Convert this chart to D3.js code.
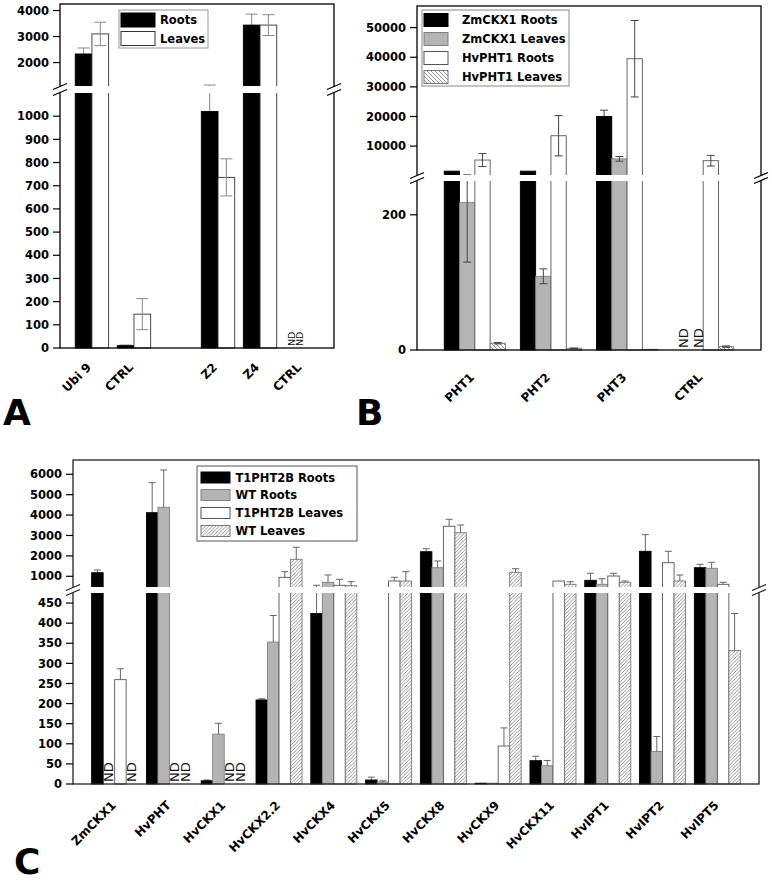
<!DOCTYPE html>
<html><head><meta charset="utf-8">
<script src="https://cdn.jsdelivr.net/npm/d3@7"></script>
<style>body{margin:0;background:#fff} text{font-family:"DejaVu Sans",sans-serif}</style>
</head><body><svg id="c" width="772" height="883"></svg>
<script>
// ---------- Panel A data ----------
const aCategories = ["Ubi 9", "CTRL", "", "Z2", "Z4", "CTRL"];
const aSeriesNames = ["Roots", "Leaves"];
const aRoots     = [2330, 10, null, 1020, 3440, "ND"];
const aRootsErr  = [230, 3, null, 118, 420, null];
const aLeaves    = [3100, 146, null, 736, 3440, "ND"];
const aLeavesErr = [450, 67, null, 80, 400, null];
const aTicksLow  = [0, 100, 200, 300, 400, 500, 600, 700, 800, 900, 1000];
const aTicksHigh = [2000, 3000, 4000];

// ---------- Panel B data ----------
const bCategories = ["PHT1", "PHT2", "PHT3", "CTRL"];
const bSeriesNames = ["ZmCKX1 Roots", "ZmCKX1 Leaves", "HvPHT1 Roots", "HvPHT1 Leaves"];
const bZmRoots      = [1550, 1550, 20030, "ND"];
const bZmRootsErr   = [0, 0, 2100, null];
const bZmLeaves     = [218, 109, 5700, "ND"];
const bZmLeavesErr  = [88, 11, 800, null];
const bHvRoots      = [5300, 13500, 39500, 5080];
const bHvRootsErr   = [2200, 6800, 12900, 1800];
const bHvLeaves     = [10, 2.5, 1, 5];
const bHvLeavesErr  = [1, 0.5, 0, 1];
const bTicksLow  = [0, 200];
const bTicksHigh = [10000, 20000, 30000, 40000, 50000];

// ---------- Panel C data ----------
const cCategories = ["ZmCKX1", "HvPHT", "HvCKX1", "HvCKX2.2", "HvCKX4", "HvCKX5", "HvCKX8", "HvCKX9", "HvCKX11", "HvIPT1", "HvIPT2", "HvIPT5"];
const cSeriesNames = ["T1PHT2B Roots", "WT Roots", "T1PHT2B Leaves", "WT Leaves"];
const cT1Roots     = [1176, 4117, 8, 209, 424, 10, 2205, 2, 58, 803, 2225, 1421];
const cT1RootsErr  = [132, 1471, 2, 3, 134, 7, 147, 0, 11, 344, 814, 167];
const cWtRoots     = ["ND", 4382, 124, 353, 705, 5, 1421, 2, 45.5, 607, 81, 1392];
const cWtRootsErr  = [null, 1828, 27, 66, 358, 3, 329, 0, 13, 275, 37, 294];
const cT1Leaves    = [259.5, "ND", "ND", 950, 558, 769, 3450, 94.5, 769, 1014, 1666, 607];
const cT1LeavesErr = [27, null, null, 275, 294, 181, 344, 45, 0, 133, 559, 98];
const cWtLeaves    = ["ND", "ND", "ND", 1833, 539, 769, 3137, 1196, 607, 705, 769, 332];
const cWtLeavesErr = [null, null, null, 588, 196, 456, 377, 176, 128, 64, 294, 92];
const cTicksLow  = [0, 50, 100, 150, 200, 250, 300, 350, 400, 450];
const cTicksHigh = [1000, 2000, 3000, 4000, 5000, 6000];

// ---------- drawing ----------
const svg = d3.select("#c");
const defs = svg.append("defs");
function hatch(id, forward, step) {
  const p = defs.append("pattern").attr("id", id).attr("patternUnits", "userSpaceOnUse")
    .attr("width", step).attr("height", step);
  p.append("rect").attr("width", step).attr("height", step).attr("fill", "#fff");
  const s = step;
  p.append("path")
    .attr("d", forward
      ? `M-1,1 l2,-2 M0,${s} l${s},-${s} M${s-1},${s+1} l2,-2`
      : `M-1,${s-1} l2,2 M0,0 l${s},${s} M${s-1},-1 l2,2`)
    .attr("stroke", "#777").attr("stroke-width", 0.8);
}
hatch("hatchB", false, 4);
hatch("hatchC", true, 3.5);

const FS = {black: {fill: "#000", stroke: "#000"}, gray: {fill: "#b4b4b4", stroke: "#808080"},
  white: {fill: "#fff", stroke: "#444"}};

function drawPanel(c) {
  const g = svg.append("g");
  const low = d3.scaleLinear().domain([0, c.lowMax]).range([c.yBot, c.lowTop]);
  const high = d3.scaleLinear().domain([c.lowMax, c.highMax]).range([c.highBot, c.yTop]);
  const y = v => v <= c.lowMax ? low(v) : high(v);
  const x = d3.scalePoint().domain(d3.range(c.cats.length)).range([c.x0, c.x1]).padding(0.76);
  const n = c.series.length;
  const xs = d3.scaleBand().domain(d3.range(n)).range([-c.barW * n / 2, c.barW * n / 2]);
  const bw = xs.bandwidth();

  const errUnder = g.append("g"), barsG = g.append("g"), errOver = g.append("g"), ndG = g.append("g");
  c.series.forEach((s, si) => {
    s.vals.forEach((v, i) => {
      if (v === null) return;
      const bx = x(i) + xs(si);
      if (v === "ND") {
        const tx = c.ndX(x(i), si, bx + bw / 2);
        ndG.append("text").attr("transform", `translate(${tx},${c.yBot - 2}) rotate(-90)`)
          .attr("dy", "0.36em").attr("font-size", c.ndSize).attr("fill", "#111").text("ND");
        return;
      }
      barsG.append("rect").attr("x", bx).attr("y", y(v)).attr("width", bw)
        .attr("height", c.yBot - y(v)).attr("fill", s.fill).attr("stroke", s.stroke).attr("stroke-width", 0.9);
      const e = s.errs[i];
      if (e) {
        const eg = s.fill === "#000" ? errUnder : errOver;
        const cx = bx + bw / 2;
        const yt = y(v + e), yb = c.errMode === "both" ? y(Math.max(0, v - e)) : y(v);
        const st = {stroke: c.errColor, "stroke-width": 1};
        const L = (x1, y1, x2, y2) => { const l = eg.append("line").attr("x1", x1).attr("y1", y1).attr("x2", x2).attr("y2", y2);
          Object.entries(st).forEach(([k, val]) => l.attr(k, val)); };
        L(cx, yt, cx, yb);
        L(cx - c.capW / 2, yt, cx + c.capW / 2, yt);
        if (c.errMode === "both") L(cx - c.capW / 2, yb, cx + c.capW / 2, yb);
      }
    });
  });

  // frame
  g.append("rect").attr("x", c.x0).attr("y", c.yTop).attr("width", c.x1 - c.x0).attr("height", c.yBot - c.yTop)
    .attr("fill", "none").attr("stroke", c.frameColor).attr("stroke-width", 1.3);
  // axis break gap
  g.append("rect").attr("x", c.x0 - 2).attr("y", c.highBot).attr("width", c.x1 - c.x0 + 4)
    .attr("height", c.lowTop - c.highBot).attr("fill", "#fff");
  [c.x0, c.x1].forEach(bxp => {
    [c.highBot + 0.5, c.lowTop - 0.5].forEach(yc => {
      g.append("line").attr("x1", bxp - 7).attr("y1", yc + 3).attr("x2", bxp + 7).attr("y2", yc - 3)
        .attr("stroke", c.frameColor).attr("stroke-width", 1.3);
    });
  });
  // y ticks
  const tickG = g.append("g");
  const ticks = c.lowTicks.map(t => ({v: t, y: low(t)})).concat(c.highTicks.map(t => ({v: t, y: high(t)})));
  ticks.forEach(t => {
    tickG.append("line").attr("x1", c.x0 - 7).attr("x2", c.x0).attr("y1", t.y).attr("y2", t.y)
      .attr("stroke", "#000").attr("stroke-width", 1.2);
    tickG.append("text").attr("x", c.x0 - 11).attr("y", t.y).attr("dy", "0.36em").attr("text-anchor", "end")
      .attr("font-size", 11.5).attr("font-weight", "bold").text(t.v);
  });
  // x labels
  c.cats.forEach((cat, i) => {
    if (!cat) return;
    g.append("text").attr("transform", `translate(${x(i) + c.labelDx},${c.labelY}) rotate(-45)`)
      .attr("text-anchor", "end").attr("font-size", 12).attr("font-weight", "bold").text(cat);
  });
  // legend
  const lg = c.legend;
  g.append("rect").attr("x", lg.x).attr("y", lg.y).attr("width", lg.w).attr("height", lg.h)
    .attr("fill", "#fff").attr("stroke", lg.stroke).attr("stroke-width", 1);
  c.series.forEach((s, si) => {
    g.append("rect").attr("x", lg.swX).attr("y", lg.rows[si]).attr("width", lg.swW).attr("height", lg.swH)
      .attr("fill", s.fill).attr("stroke", s.stroke).attr("stroke-width", 1);
    g.append("text").attr("x", lg.textX).attr("y", lg.rows[si] + lg.swH / 2).attr("dy", "0.36em")
      .attr("font-size", 11.5).attr("font-weight", "bold").text(s.name);
  });
  // panel letter
  svg.append("text").attr("x", c.letter[1]).attr("y", c.letter[2]).attr("font-size", 36)
    .attr("font-weight", "bold").text(c.letter[0]);
}

drawPanel({
  x0: 60, x1: 334, yTop: 4, yBot: 348, lowMax: 1100, lowTop: 93, highBot: 86, highMax: 4250,
  lowTicks: aTicksLow, highTicks: aTicksHigh, cats: aCategories,
  series: [
    {name: aSeriesNames[0], vals: aRoots, errs: aRootsErr, ...FS.black},
    {name: aSeriesNames[1], vals: aLeaves, errs: aLeavesErr, fill: "#fff", stroke: "#333"}
  ],
  barW: 16.7, capW: 12, errMode: "both", errColor: "#888", frameColor: "#000",
  ndSize: 9.5, ndX: (gx, si) => gx - 10 + si * 8,
  labelDx: 0, labelY: 368,
  legend: {x: 119, y: 10, w: 89, h: 38, stroke: "#999", swX: 121, swW: 34, swH: 14, rows: [13, 31.5], textX: 160},
  letter: ["A", 3, 425]
});

drawPanel({
  x0: 417, x1: 761, yTop: 6, yBot: 350, lowMax: 250, lowTop: 181, highBot: 175, highMax: 57300,
  lowTicks: bTicksLow, highTicks: bTicksHigh, cats: bCategories,
  series: [
    {name: bSeriesNames[0], vals: bZmRoots, errs: bZmRootsErr, ...FS.black},
    {name: bSeriesNames[1], vals: bZmLeaves, errs: bZmLeavesErr, ...FS.gray},
    {name: bSeriesNames[2], vals: bHvRoots, errs: bHvRootsErr, fill: "#fff", stroke: "#555"},
    {name: bSeriesNames[3], vals: bHvLeaves, errs: bHvLeavesErr, fill: "url(#hatchB)", stroke: "#777"}
  ],
  barW: 15.3, capW: 8, errMode: "both", errColor: "#444", frameColor: "#000",
  ndSize: 13, ndX: (gx, si, bc) => bc + 3,
  labelDx: 0, labelY: 378,
  legend: {x: 422, y: 10, w: 147, h: 76, stroke: "#888", swX: 424, swW: 24, swH: 13, rows: [13.5, 32.5, 51.5, 70.5], textX: 462},
  letter: ["B", 356, 425]
});

drawPanel({
  x0: 73, x1: 759, yTop: 460, yBot: 784, lowMax: 475, lowTop: 593, highBot: 587, highMax: 6700,
  lowTicks: cTicksLow, highTicks: cTicksHigh, cats: cCategories,
  series: [
    {name: cSeriesNames[0], vals: cT1Roots, errs: cT1RootsErr, ...FS.black},
    {name: cSeriesNames[1], vals: cWtRoots, errs: cWtRootsErr, ...FS.gray},
    {name: cSeriesNames[2], vals: cT1Leaves, errs: cT1LeavesErr, fill: "#fff", stroke: "#555"},
    {name: cSeriesNames[3], vals: cWtLeaves, errs: cWtLeavesErr, fill: "url(#hatchC)", stroke: "#777"}
  ],
  barW: 11.5, capW: 7, errMode: "up", errColor: "#666", frameColor: "#222",
  ndSize: 13, ndX: (gx, si, bc) => bc - 1,
  labelDx: 2, labelY: 806,
  legend: {x: 197, y: 466, w: 160, h: 75, stroke: "#555", swX: 201, swW: 29, swH: 11, rows: [472, 489.5, 507.5, 525.5], textX: 235.5},
  letter: ["C", 14, 874]
});
</script>
</body></html>
